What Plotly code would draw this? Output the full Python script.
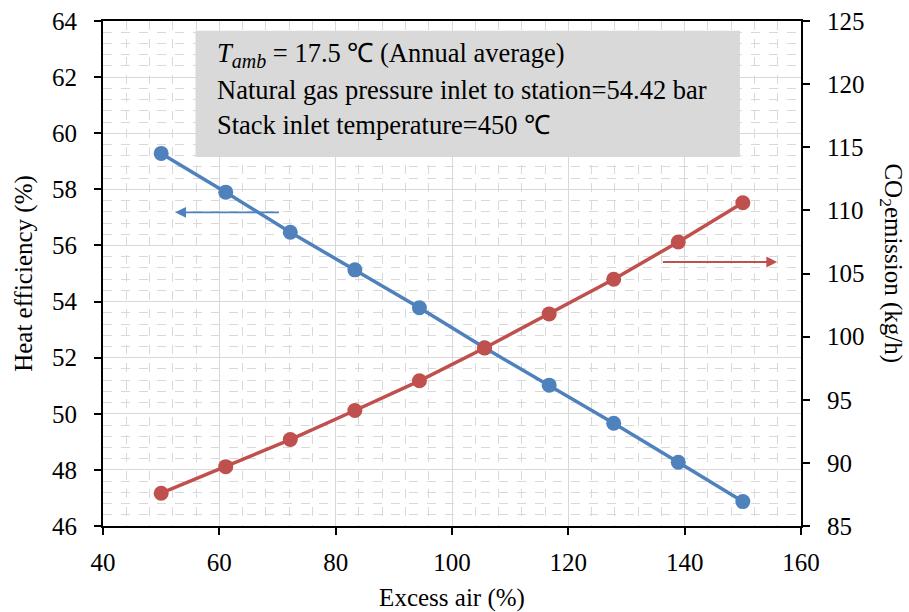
import plotly.graph_objects as go

# Excess air levels (%)
excess_air = [50.0, 61.1, 72.2, 83.3, 94.4, 105.6, 116.7, 127.8, 138.9, 150.0]
# Heat efficiency (%) on the left axis
heat_eff = [59.28, 57.90, 56.47, 55.13, 53.78, 52.35, 51.02, 49.66, 48.27, 46.87]
# CO2 emission (kg/h) on the right axis
co2 = [87.6, 89.7, 91.85, 94.15, 96.5, 99.1, 101.8, 104.55, 107.5, 110.6]

info_lines = [
    "<i>T</i><sub><i><span style='font-size:20px'>amb</span></i></sub> = 17.5 \u2103 (Annual average)",
    "Natural gas pressure inlet to station=54.42 bar",
    "Stack inlet temperature=450 \u2103",
]

BLUE = "#4f81bd"
RED = "#c0504d"
FONT = "Liberation Serif, Times New Roman, serif"
FS = 25

fig = go.Figure()
fig.add_trace(go.Scatter(
    x=excess_air, y=heat_eff, mode="lines+markers",
    line=dict(color=BLUE, width=3.5), marker=dict(color=BLUE, size=15),
    yaxis="y", showlegend=False,
))
fig.add_trace(go.Scatter(
    x=excess_air, y=co2, mode="lines+markers",
    line=dict(color=RED, width=3.5), marker=dict(color=RED, size=15),
    yaxis="y2", showlegend=False,
))

axis_common = dict(
    showline=True, linecolor="black", linewidth=2,
    ticks="outside", ticklen=7, tickwidth=2, tickcolor="black",
    tickfont=dict(family=FONT, size=FS, color="black"),
    zeroline=False, automargin=False,
)

fig.update_layout(
    width=909, height=612,
    margin=dict(l=103, r=108, t=21, b=86),
    plot_bgcolor="white", paper_bgcolor="white",
    font=dict(family=FONT, color="black"),
    xaxis=dict(
        range=[40, 160], dtick=20, tick0=40, mirror=True,
        showgrid=True, gridcolor="#d9d9d9", gridwidth=1,
        minor=dict(dtick=4, showgrid=True, griddash="dash", gridcolor="#d9d9d9", gridwidth=1),
        ticklabelstandoff=6,
        title=dict(text="Excess air (%)", font=dict(family=FONT, size=FS), standoff=15),
        **axis_common,
    ),
    yaxis=dict(
        range=[46, 64], dtick=2, tick0=46, mirror=True,
        showgrid=True, gridcolor="#d9d9d9", gridwidth=1,
        minor=dict(dtick=0.4, showgrid=True, griddash="dash", gridcolor="#d9d9d9", gridwidth=1),
        ticklabelstandoff=12,
        title=dict(text="Heat efficiency (%)", font=dict(family=FONT, size=FS), standoff=12),
        **axis_common,
    ),
    yaxis2=dict(
        range=[85, 125], dtick=5, tick0=85, overlaying="y", side="right",
        showgrid=False, ticklabelstandoff=12,
        **axis_common,
    ),
)

# Right axis title reads top-to-bottom
fig.add_annotation(
    xref="paper", yref="paper", x=1.0, y=0.52, xshift=91, xanchor="center",
    text="CO<sub>2</sub>emission (kg/h)", textangle=90, showarrow=False,
    font=dict(family=FONT, size=FS, color="black"),
)

# Info box
fig.add_shape(
    type="rect", xref="x", yref="y", x0=55.9, x1=149.5, y0=59.15, y1=63.65,
    fillcolor="#d9d9d9", line=dict(width=0), layer="above",
)
for i, line in enumerate(info_lines):
    fig.add_annotation(
        xref="x", yref="y", x=59.2, y=62.78 - i * 1.24, xanchor="left", yanchor="middle",
        text=line, showarrow=False, font=dict(family=FONT, size=26.5, color="black"),
    )

# Arrows pointing to each series' axis
fig.add_annotation(
    xref="x", yref="y", axref="x", ayref="y",
    x=52.4, y=57.18, ax=70.5, ay=57.18, text="", showarrow=True,
    arrowhead=2, arrowsize=1.2, arrowwidth=1.8, arrowcolor=BLUE,
)
fig.add_annotation(
    xref="x", yref="y", axref="x", ayref="y",
    x=155.9, y=55.41, ax=136.0, ay=55.41, text="", showarrow=True,
    arrowhead=2, arrowsize=1.2, arrowwidth=1.8, arrowcolor=RED,
)

fig.write_html("out.html")
